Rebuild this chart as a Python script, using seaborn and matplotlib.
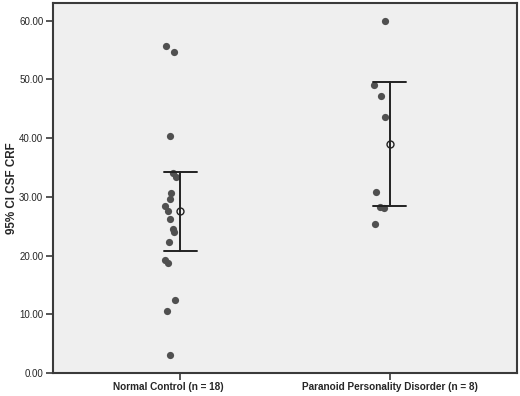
import numpy as np
import pandas as pd
import matplotlib
matplotlib.use("Agg")
import matplotlib.pyplot as plt
import seaborn as sns
from matplotlib.transforms import ScaledTranslation

# ---- data ----
categories = ["Normal Control (n = 18)", "Paranoid Personality Disorder (n = 8)"]
normal_control = [55.6, 54.7, 40.3, 34.1, 33.3, 30.6, 29.6, 28.5, 27.5,
                  26.3, 24.5, 24.0, 22.3, 19.3, 18.7, 12.4, 10.6, 3.0]
paranoid = [60.0, 49.0, 47.1, 43.6, 30.9, 28.2, 28.1, 25.4]
y_ticks = [0, 10, 20, 30, 40, 50, 60]
y_label = "95% CI CSF CRF"
t_crit = {18: 2.110, 8: 2.365}   # two-sided 95% t critical values (df = n-1)

df = pd.DataFrame({
    "group": [categories[0]] * len(normal_control) + [categories[1]] * len(paranoid),
    "value": normal_control + paranoid,
})


def t_ci(x):
    x = np.asarray(x, dtype=float)
    n = len(x)
    m = x.mean()
    h = t_crit[n] * x.std(ddof=1) / np.sqrt(n)
    return (m - h, m + h)


sns.set_style("white")
plt.rcParams["font.family"] = ["Liberation Sans", "DejaVu Sans"]

fig = plt.figure(figsize=(5.2, 3.96), dpi=100)
ax = fig.add_axes([53 / 520, 23 / 396, 464 / 520, 370 / 396])
ax.set_facecolor("#efefef")

np.random.seed(7)
sns.stripplot(data=df, x="group", y="value", order=categories, jitter=0.028,
              size=5.2, color="#505050", linewidth=0, ax=ax, zorder=2)
# SPSS-style: dots sit slightly left of the category centre
for coll in ax.collections:
    off = coll.get_offsets()
    if len(off):
        off[:, 0] -= 0.048
        coll.set_offsets(off)

sns.pointplot(data=df, x="group", y="value", order=categories,
              estimator="mean", errorbar=t_ci, capsize=0.16,
              linestyle="none", marker="o", markersize=5,
              markerfacecolor="#efefef", markeredgecolor="#222222",
              markeredgewidth=1.0, color="#222222",
              err_kws={"linewidth": 1.4}, ax=ax, zorder=3)

ax.set_xlim(-0.61, 1.61)
ax.set_ylim(0, 63)
ax.set_yticks(y_ticks)
ax.set_yticklabels([f"{v:.2f}" for v in y_ticks], fontsize=7)
ax.set_xticks(range(len(categories)))
ax.set_xticklabels(categories, fontsize=7.2, fontweight="bold")
ax.set_xlabel("")
ax.set_ylabel(y_label, fontsize=8.4, fontweight="bold", labelpad=1)

for s in ax.spines.values():
    s.set_visible(True)
    s.set_color("#3a3a3a")
    s.set_linewidth(1.5)
ax.tick_params(axis="both", which="both", direction="out", length=5,
               width=1.2, color="#3a3a3a", left=True, bottom=True,
               right=False, top=False, pad=2)
ax.tick_params(axis="x", pad=1.5)

# the first category label sits a little left of its tick in the reference
lbl = ax.get_xticklabels()[0]
lbl.set_transform(lbl.get_transform() + ScaledTranslation(-0.12, 0, fig.dpi_scale_trans))

fig.savefig("out.png", dpi=100, facecolor="white")
